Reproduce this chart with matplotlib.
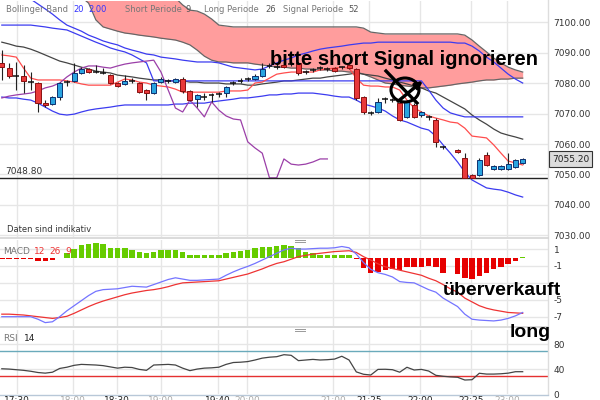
import numpy as np
import matplotlib.pyplot as plt
from matplotlib.patches import Rectangle, Ellipse, FancyArrowPatch
from matplotlib.lines import Line2D

plt.rcParams['font.family'] = ['DejaVu Sans']

nan = np.nan

# candles, one slot per bar (slot 62 has no bar)
opens = [7086.6, 7084.9, 7082.4, 7082.3, 7080.4, 7080.0, 7073.4, 7073.1, 7075.4, 7080.3,
         7080.7, 7083.3, 7084.6, 7083.6, 7083.3, 7082.6, 7080.0, 7079.7, 7080.7, 7080.0,
         7077.7, 7076.7, 7080.3, 7080.7, 7080.3, 7081.3, 7077.4, 7074.8, 7075.5, 7076.1,
         7076.4, 7076.7, 7080.0, 7080.7, 7081.3, 7081.3, 7082.3, 7085.6, 7085.2, 7085.9,
         7086.2, 7086.6, 7083.6, 7084.3, 7084.9, 7084.6, 7084.9, 7085.2, 7085.9, 7084.6,
         7075.4, 7070.2, 7070.5, 7074.8, 7074.4, 7073.4, 7068.9, 7072.8, 7069.5, 7068.9,
         7067.9, 7059.0, nan, 7058.0, 7055.4, 7049.8, 7049.8, 7056.4, 7051.8, 7051.8,
         7051.8, 7052.5, 7053.8]
highs = [7090.8, 7086.6, 7086.9, 7085.9, 7083.6, 7080.2, 7074.4, 7075.7, 7080.3, 7081.0,
         7086.6, 7085.2, 7084.9, 7085.9, 7084.9, 7083.0, 7080.2, 7082.6, 7081.6, 7080.3,
         7078.0, 7080.3, 7082.0, 7081.3, 7081.6, 7082.0, 7077.7, 7076.4, 7076.7, 7076.7,
         7077.0, 7079.0, 7080.7, 7081.6, 7082.0, 7083.0, 7086.6, 7086.6, 7086.2, 7086.6,
         7086.9, 7086.9, 7084.3, 7084.9, 7085.6, 7085.2, 7085.2, 7085.6, 7086.2, 7084.9,
         7075.7, 7070.8, 7075.1, 7075.4, 7075.1, 7074.1, 7074.4, 7073.4, 7070.8, 7069.5,
         7068.5, 7059.3, nan, 7058.2, 7057.0, 7050.1, 7055.4, 7057.4, 7053.1, 7053.1,
         7057.0, 7055.1, 7055.5]
lows = [7081.0, 7081.6, 7077.7, 7076.7, 7077.7, 7070.5, 7072.1, 7072.8, 7074.4, 7079.0,
        7080.3, 7083.0, 7083.3, 7083.3, 7083.0, 7079.7, 7078.8, 7079.3, 7080.0, 7076.7,
        7074.4, 7076.4, 7080.0, 7080.0, 7080.0, 7076.7, 7074.1, 7072.1, 7074.4, 7073.8,
        7075.4, 7075.4, 7079.3, 7080.0, 7080.7, 7081.0, 7082.0, 7084.9, 7084.6, 7084.9,
        7085.6, 7082.6, 7083.0, 7083.6, 7084.3, 7084.0, 7083.6, 7084.6, 7084.6, 7074.4,
        7070.0, 7069.5, 7070.2, 7073.4, 7073.8, 7067.5, 7068.5, 7068.5, 7068.9, 7067.9,
        7059.0, 7058.4, nan, 7057.2, 7048.8, 7048.8, 7049.5, 7052.8, 7051.5, 7051.5,
        7051.5, 7052.2, 7053.6]
closes = [7085.2, 7082.3, 7082.2, 7080.7, 7080.3, 7073.4, 7072.8, 7075.4, 7080.0, 7080.4,
          7083.3, 7084.6, 7083.6, 7083.5, 7083.2, 7080.0, 7079.0, 7080.7, 7080.6, 7077.0,
          7076.7, 7080.0, 7081.3, 7080.8, 7081.3, 7077.4, 7074.4, 7076.1, 7075.4, 7076.0,
          7076.5, 7078.7, 7080.1, 7080.8, 7081.4, 7082.3, 7084.6, 7085.7, 7085.3, 7085.2,
          7086.1, 7083.3, 7083.5, 7084.2, 7084.8, 7084.5, 7083.9, 7085.1, 7084.9, 7075.1,
          7070.5, 7070.3, 7073.8, 7074.7, 7074.3, 7067.9, 7073.8, 7068.9, 7070.5, 7068.8,
          7060.7, 7058.9, nan, 7057.4, 7048.9, 7048.9, 7054.8, 7053.1, 7052.8, 7052.8,
          7053.4, 7054.8, 7055.2]

bb_upper = [7112.1, 7110.8, 7109.8, 7108.8, 7107.5, 7105.9, 7104.3, 7102.6, 7100.7, 7099.0,
            7098.0, 7097.0, 7095.7, 7094.8, 7093.8, 7093.1, 7092.5, 7091.5, 7090.8, 7090.2,
            7089.5, 7089.2, 7088.5, 7088.2, 7087.9, 7087.5, 7087.2, 7086.9, 7086.9, 7086.9,
            7086.6, 7085.9, 7085.2, 7084.9, 7084.6, 7084.3, 7084.6, 7085.6, 7086.6, 7087.5,
            7088.2, 7089.2, 7089.8, 7090.5, 7091.1, 7091.5, 7091.8, 7092.1, 7092.5, 7092.8,
            7093.1, 7093.1, 7093.4, 7093.4, 7093.4, 7093.4, 7093.4, 7093.4, 7093.4, 7093.4,
            7093.4, 7093.4, 7093.4, 7093.1, 7093.1, 7092.1, 7090.5, 7088.5, 7086.9, 7084.9,
            7082.9, 7081.3, 7080.0]
bb_middle = [7093.4, 7092.8, 7092.1, 7091.8, 7091.1, 7090.2, 7089.2, 7088.2, 7087.2, 7086.6,
             7085.9, 7085.2, 7084.6, 7083.9, 7083.6, 7083.3, 7082.6, 7082.3, 7082.0, 7081.6,
             7081.3, 7081.0, 7081.0, 7080.7, 7080.7, 7080.7, 7080.3, 7080.3, 7080.0, 7080.0,
             7080.0, 7079.7, 7079.7, 7079.7, 7079.3, 7079.3, 7079.7, 7080.0, 7080.3, 7080.7,
             7080.7, 7081.0, 7081.3, 7081.6, 7081.6, 7082.0, 7082.3, 7082.6, 7082.9, 7083.3,
             7082.9, 7082.6, 7082.3, 7081.6, 7081.0, 7080.3, 7079.7, 7079.0, 7078.4, 7077.4,
             7076.7, 7075.4, 7074.1, 7072.8, 7071.5, 7069.5, 7067.9, 7066.5, 7064.9, 7063.6,
             7062.9, 7062.3, 7061.6]
bb_lower = [7075.4, 7075.1, 7075.1, 7074.7, 7074.4, 7073.4, 7072.1, 7070.8, 7069.8, 7069.5,
            7069.8, 7070.5, 7071.1, 7071.5, 7071.8, 7072.1, 7072.5, 7072.8, 7072.8, 7072.8,
            7072.8, 7072.8, 7072.8, 7072.8, 7073.1, 7073.1, 7073.4, 7073.4, 7073.4, 7073.8,
            7074.1, 7074.4, 7074.7, 7075.1, 7075.1, 7075.4, 7075.7, 7076.1, 7076.1, 7076.4,
            7076.4, 7076.7, 7076.7, 7076.7, 7076.4, 7076.1, 7075.7, 7075.4, 7075.4, 7074.4,
            7073.1, 7072.5, 7071.8, 7070.8, 7069.2, 7067.9, 7067.2, 7066.2, 7065.2, 7064.6,
            7062.6, 7059.7, 7057.0, 7054.1, 7050.8, 7048.2, 7046.9, 7045.6, 7045.2, 7044.9,
            7044.2, 7043.3, 7042.6]

tenkan = [7089.2, 7088.9, 7088.5, 7084.9, 7081.6, 7081.0, 7081.0, 7081.0, 7081.0, 7080.7,
          7080.3, 7079.7, 7079.3, 7079.3, 7079.3, 7079.3, 7080.3, 7081.3, 7081.0, 7080.3,
          7080.0, 7079.3, 7079.0, 7078.7, 7078.0, 7077.0, 7077.0, 7077.0, 7077.0, 7077.0,
          7077.0, 7077.4, 7077.4, 7077.4, 7077.7, 7080.0, 7080.3, 7081.6, 7082.9, 7083.3,
          7083.6, 7083.6, 7083.6, 7083.6, 7084.3, 7084.6, 7084.9, 7085.2, 7084.9, 7081.6,
          7079.3, 7079.0, 7079.0, 7078.7, 7078.7, 7077.7, 7074.4, 7071.8, 7070.5, 7069.2,
          7068.5, 7067.9, 7067.2, 7066.9, 7065.2, 7062.6, 7062.3, 7062.0, 7059.7, 7057.0,
          7054.4, 7053.8, 7053.1]
kijun = [7099.0, 7099.0, 7099.0, 7099.0, 7099.0, 7098.7, 7098.4, 7098.0, 7097.7, 7097.4,
         7096.4, 7095.4, 7094.4, 7093.4, 7092.5, 7091.5, 7090.8, 7090.2, 7089.2, 7087.9,
         7086.6, 7080.7, 7080.7, 7080.7, 7080.7, 7080.7, 7080.7, 7080.7, 7080.7, 7080.7,
         7080.7, 7080.7, 7080.7, 7080.7, 7080.7, 7080.7, 7080.7, 7080.7, 7080.7, 7080.7,
         7080.7, 7080.7, 7080.7, 7080.7, 7080.7, 7080.7, 7080.7, 7080.7, 7080.7, 7080.7,
         7080.7, 7080.7, 7080.7, 7080.7, 7080.7, 7080.7, 7080.7, 7080.7, 7080.7, 7077.7,
         7074.4, 7071.8, 7070.2, 7069.5, 7068.9, 7068.9, 7068.9, 7068.9, 7068.9, 7068.9,
         7068.9, 7068.9, 7068.9]
cloud_top = [7120.0, 7120.0, 7120.0, 7120.0, 7120.0, 7120.0, 7120.0, 7120.0, 7120.0, 7120.0,
             7120.0, 7120.0, 7120.0, 7120.0, 7120.0, 7120.0, 7120.0, 7120.0, 7118.0, 7116.0,
             7114.0, 7113.0, 7112.0, 7110.5, 7107.9, 7105.6, 7103.9, 7103.6, 7102.6, 7101.0,
             7099.0, 7098.7, 7098.4, 7098.4, 7098.4, 7098.4, 7098.4, 7098.4, 7098.4, 7098.4,
             7098.4, 7098.4, 7098.4, 7098.4, 7098.4, 7098.4, 7098.4, 7098.4, 7098.4, 7098.4,
             7098.0, 7096.7, 7096.4, 7096.1, 7096.1, 7096.1, 7096.1, 7096.1, 7096.1, 7096.1,
             7096.1, 7096.1, 7096.1, 7096.1, 7095.7, 7094.1, 7092.1, 7090.2, 7088.2, 7086.6,
             7085.2, 7084.3, 7083.6]
cloud_bottom = [7117.0, 7116.4, 7115.7, 7115.1, 7114.4, 7113.8, 7113.1, 7112.5, 7111.8, 7110.8,
                7109.5, 7108.2, 7106.2, 7100.7, 7098.4, 7097.7, 7097.0, 7096.4, 7096.1, 7095.7,
                7095.4, 7095.1, 7094.7, 7094.4, 7094.1, 7093.4, 7092.5, 7090.8, 7088.8, 7087.5,
                7086.9, 7086.9, 7086.6, 7086.6, 7086.6, 7086.2, 7085.9, 7085.6, 7085.2, 7085.2,
                7084.9, 7084.9, 7084.6, 7084.6, 7084.3, 7084.3, 7083.9, 7083.9, 7083.6, 7083.6,
                7082.9, 7082.0, 7081.0, 7080.0, 7079.7, 7079.3, 7079.0, 7078.7, 7078.4, 7078.4,
                7078.7, 7079.0, 7079.3, 7079.7, 7080.0, 7080.3, 7080.7, 7081.0, 7081.0, 7081.3,
                7081.3, 7081.6, 7081.6]
chikou = [7075.1, 7075.7, 7076.1, 7076.4, 7076.7, 7077.4, 7078.4, 7079.0, 7080.0, 7082.0,
          7083.6, 7084.9, 7085.6, 7085.6, 7085.2, 7084.9, 7085.6, 7086.2, 7086.6, 7086.9,
          7087.2, 7087.5, 7083.6, 7077.7, 7071.8, 7070.5, 7074.4, 7071.8, 7068.9, 7073.8,
          7071.1, 7069.2, 7068.2, 7067.9, 7060.7, 7058.7, 7057.0, 7048.9, 7048.9, 7055.1,
          7053.4, 7053.1, 7053.4, 7054.1, 7055.1, 7055.1]

macd_hist = [-0.12, -0.12, -0.12, -0.12, -0.12, -0.47, -0.47, -0.32, -0.05, 0.59,
             0.99, 1.46, 1.62, 1.66, 1.58, 1.18, 1.10, 1.07, 0.91, 0.71,
             0.51, 0.67, 0.83, 0.87, 0.83, 0.67, 0.32, 0.28, 0.28, 0.28,
             0.28, 0.51, 0.71, 0.79, 0.91, 1.07, 1.26, 1.30, 1.38, 1.46,
             1.38, 1.10, 0.70, 0.55, 0.35, 0.30, 0.30, 0.25, 0.25, -0.20,
             -1.26, -1.78, -1.66, -1.50, -1.38, -1.50, -1.18, -1.18, -1.10, -0.99,
             -1.18, -1.78, nan, -1.97, -2.37, -2.56, -2.17, -1.78, -1.38, -1.10,
             -0.79, -0.39, 0.08]
macd_line = [-7.0, -7.0, -7.0, -7.0, -7.0, -7.3, -7.7, -7.6, -7.0, -6.3,
             -5.7, -5.1, -4.5, -4.0, -3.8, -3.75, -3.7, -3.55, -3.4, -3.45,
             -3.5, -3.2, -2.9, -2.6, -2.4, -2.55, -2.7, -2.7, -2.65, -2.6,
             -2.55, -2.1, -1.7, -1.35, -1.05, -0.7, -0.3, 0.1, 0.5, 0.9,
             1.1, 1.0, 1.0, 1.05, 1.1, 1.1, 1.15, 1.3, 1.15, 0.4,
             -0.6, -1.4, -1.8, -2.0, -2.3, -2.85, -2.95, -3.0, -3.4, -3.8,
             -4.1, -4.8, -5.3, -5.8, -6.7, -7.3, -7.4, -7.45, -7.5, -7.4,
             -7.2, -6.9, -6.5]
macd_signal = [-6.7, -6.7, -6.75, -6.8, -6.9, -7.0, -7.1, -7.2, -7.1, -6.95,
               -6.6, -6.2, -5.8, -5.45, -5.15, -4.9, -4.65, -4.4, -4.2, -4.05,
               -3.9, -3.8, -3.65, -3.45, -3.2, -3.0, -2.95, -2.9, -2.85, -2.8,
               -2.75, -2.55, -2.35, -2.15, -1.95, -1.65, -1.35, -1.0, -0.7, -0.5,
               -0.2, 0.1, 0.25, 0.4, 0.5, 0.6, 0.7, 0.75, 0.8, 0.6,
               0.1, -0.3, -0.75, -1.1, -1.3, -1.5, -1.7, -1.9, -2.1, -2.45,
               -2.75, -3.2, -3.7, -4.1, -4.8, -5.25, -5.7, -6.0, -6.2, -6.35,
               -6.5, -6.55, -6.6]

rsi = [41, 40.5, 39.5, 38.5, 37, 35, 34, 35.5, 41.5, 43.5,
       46.5, 48, 47.5, 47, 46, 44, 42, 43.5, 43, 40,
       38.5, 47, 47.5, 48, 47, 42, 38, 40.5, 42, 42.5,
       43.5, 48, 51, 51.5, 52.5, 55, 58, 59.5, 60.3, 63.5,
       62.5, 54, 55, 56, 55, 55.5, 56.5, 61, 55, 36,
       32.2, 31, 40, 40.2, 39.5, 35.5, 43.4, 39, 40, 37.4,
       30.5, 29, 28, 27.4, 23, 23.5, 33.8, 32.5, 32.5, 33,
       34, 36.3, 36.3]

price_ticks = [7100, 7090, 7080, 7070, 7060, 7050, 7040, 7030]
macd_ticks = [1, -1, -5, -7]
rsi_ticks = [80, 40, 0]
support_level = 7048.80
last_price = 7055.20
time_pos = [2.1, 9.85, 15.9, 22.0, 29.9, 33.9, 45.8, 50.8, 57.8, 64.9, 69.9]
time_labels = ['17:30', '18:00', '18:30', '19:00', '19:40', '20:00',
               '21:00', '21:25', '22:00', '22:25', '23:00']
time_major = [True, False, True, False, True, False, False, True, True, True, False]

idx = np.arange(len(closes))

W, H = 600, 400
fig = plt.figure(figsize=(6, 4), dpi=100)


def fx(x):
    return x / W


def fy(y):
    return 1 - y / H


ax = fig.add_axes([0, fy(237), fx(548), 236 / H])
axm = fig.add_axes([0, fy(326), fx(548), 86 / H])
axr = fig.add_axes([0, fy(394.4), fx(548), 64.4 / H])

grid_c = '#e6e6e6'
for a in (ax, axm, axr):
    a.set_xlim(-0.25, 75.5)
    for s in a.spines.values():
        s.set_visible(False)
    a.set_xticks([])
    a.yaxis.tick_right()
    a.tick_params(axis='y', length=0, pad=4, labelsize=6.5, labelcolor='#333333')
    for t in time_pos:
        a.axvline(t, color=grid_c, lw=1, zorder=0)

# ---- main price panel
ax.set_ylim(7029.5, 7106.9)
ax.set_yticks(price_ticks)
ax.set_yticklabels(['%.2f' % p for p in price_ticks])
for p in price_ticks:
    ax.axhline(p, color=grid_c, lw=1, zorder=0)

ax.fill_between(idx, cloud_bottom, cloud_top, color='#ff9d9d', lw=0, zorder=1)
ax.plot(idx, cloud_top, color='#666666', lw=0.9, zorder=2)
ax.plot(idx, cloud_bottom, color='#666666', lw=0.9, zorder=2)

ax.plot(idx, bb_upper, color='#3b3bf0', lw=0.9, zorder=3)
ax.plot(idx, bb_lower, color='#3b3bf0', lw=0.9, zorder=3)
ax.plot(idx, bb_middle, color='#444444', lw=0.9, zorder=3)
ax.plot(idx, kijun, color='#3b3bf0', lw=0.9, zorder=3)
ax.plot(idx, tenkan, color='#ff4d4d', lw=0.9, zorder=3)
ax.plot(np.arange(len(chikou)), chikou, color='#9b3fa8', lw=0.9, zorder=3)

ax.axhline(support_level, color='#222222', lw=1, zorder=4)

for i in idx:
    o, h, l, c = opens[i], highs[i], lows[i], closes[i]
    if np.isnan(c):
        continue
    ax.vlines(i, l, h, color='#222222', lw=0.8, zorder=5)
    if abs(c - o) < 0.3:
        ax.hlines(c, i - 0.4, i + 0.4, color='#111111', lw=1.1, zorder=6)
    else:
        up = c > o
        ax.add_patch(Rectangle((i - 0.35, min(o, c)), 0.7, abs(c - o),
                               facecolor='#2aa4e0' if up else '#e8393a',
                               edgecolor='#0d3070' if up else '#8a1010',
                               lw=0.7, zorder=6))

# ---- MACD panel
axm.set_ylim(-8.1, 2.07)
axm.set_yticks(macd_ticks)
axm.set_yticklabels([str(t) for t in macd_ticks])
for t in [1, -1, -3, -5, -7]:
    axm.axhline(t, color=grid_c, lw=1, zorder=0)
hist = np.array(macd_hist)
axm.bar(idx, hist, width=0.75, color=np.where(hist >= 0, '#66cc00', '#e60000'), zorder=2)
axm.plot(idx, macd_signal, color='#ee3333', lw=0.9, zorder=3)
axm.plot(idx, macd_line, color='#7474ff', lw=0.9, zorder=3)

# ---- RSI panel
axr.set_ylim(0, 103)
axr.set_yticks(rsi_ticks)
axr.set_yticklabels([str(t) for t in rsi_ticks])
for t in [80, 40]:
    axr.axhline(t, color=grid_c, lw=1, zorder=0)
axr.axhline(70, color='#6aaabb', lw=1, zorder=1)
axr.axhline(30, color='#e53030', lw=1, zorder=1)
axr.plot(idx, rsi, color='#444444', lw=0.9, zorder=3)

# ---- frame bits
fig.add_artist(Line2D([fx(548), fx(548)], [fy(0), fy(394)], color='#dddddd', lw=1))
fig.add_artist(Line2D([0, fx(548)], [fy(238.5), fy(238.5)], color='#d4d4d4', lw=1.2))
fig.add_artist(Line2D([0, fx(548)], [fy(327), fy(327)], color='#d4d4d4', lw=1.2))
fig.add_artist(Line2D([0, fx(548)], [fy(394.5), fy(394.5)], color='#b8c8d8', lw=1))
for yy in (240.5, 242.5, 328.5, 330.5):
    fig.add_artist(Line2D([fx(295), fx(305)], [fy(yy), fy(yy)], color='#999999', lw=0.7))

# ---- legend texts
small = dict(fontsize=6, va='center')
fig.text(fx(6), fy(9.5), 'Bollinger Band', color='#777777', **small)
fig.text(fx(73), fy(9.5), '20', color='#3333ff', **small)
fig.text(fx(88), fy(9.5), '2.00', color='#3333ff', **small)
fig.text(fx(125), fy(9.5), 'Short Periode', color='#777777', **small)
fig.text(fx(186), fy(9.5), '9', color='#555555', **small)
fig.text(fx(204), fy(9.5), 'Long Periode', color='#777777', **small)
fig.text(fx(265), fy(9.5), '26', color='#555555', **small)
fig.text(fx(283), fy(9.5), 'Signal Periode', color='#777777', **small)
fig.text(fx(348), fy(9.5), '52', color='#555555', **small)

fig.text(fx(5), fy(172), '%.2f' % support_level, fontsize=6.5, color='#333333', va='center')
fig.text(fx(7), fy(230), 'Daten sind indikativ', fontsize=6, color='#333333', va='center')
fig.text(fx(552), fy(159), '%.2f' % last_price, fontsize=6.5, color='#222222', va='center',
         bbox=dict(boxstyle='square,pad=0.35', fc='#dcdcdc', ec='#333333', lw=0.8))

fig.text(fx(3), fy(252), 'MACD', fontsize=6.5, color='#777777', va='center')
fig.text(fx(34), fy(252), '12', fontsize=6.5, color='#ee3333', va='center')
fig.text(fx(49), fy(252), '26', fontsize=6.5, color='#ee3333', va='center')
fig.text(fx(65), fy(252), '9', fontsize=6.5, color='#ee3333', va='center')
fig.text(fx(3), fy(338.5), 'RSI', fontsize=6.5, color='#777777', va='center')
fig.text(fx(24), fy(338.5), '14', fontsize=6.5, color='#222222', va='center')

for t, lab, major in zip(time_pos, time_labels, time_major):
    xp = ax.transData.transform((t, 0))[0] / W
    fig.text(xp, fy(396), lab, fontsize=6.5, ha='center', va='top',
             color='#222222' if major else '#aaaaaa')

# ---- annotations
big = dict(family=['Liberation Sans', 'DejaVu Sans'], fontweight='bold', color='black')
fig.text(fx(270), fy(65), 'bitte short Signal ignorieren', fontsize=14.5, va='baseline', **big)
fig.text(fx(443), fy(295), 'überverkauft', fontsize=14, va='baseline', **big)
fig.text(fx(510), fy(337), 'long', fontsize=14, va='baseline', **big)

fig.add_artist(Ellipse((fx(405), fy(90)), 28 / W, 24 / H, fill=False, ec='black', lw=2.2))
fig.add_artist(Line2D([fx(386), fx(417)], [fy(71), fy(103)], color='black', lw=2.4))
fig.add_artist(FancyArrowPatch((fx(396), fy(103)), (fx(425), fy(79)), transform=fig.transFigure,
                               arrowstyle='-|>', mutation_scale=10, color='black', lw=2.4))

fig.savefig('out.png', dpi=100)
